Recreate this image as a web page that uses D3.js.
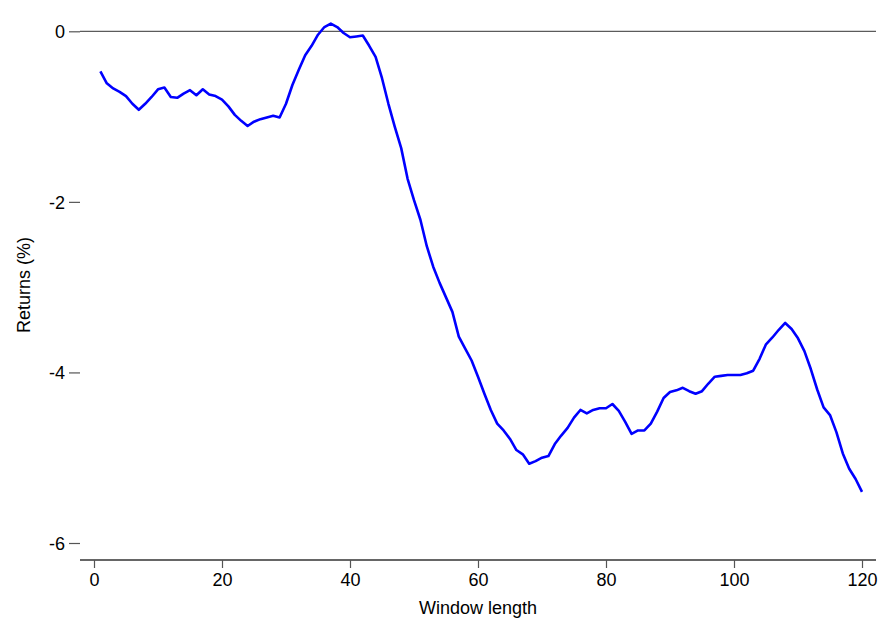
<!DOCTYPE html>
<html>
<head>
<meta charset="utf-8">
<script src="https://cdn.jsdelivr.net/npm/d3@7"></script>
<style>
  body { margin: 0; background: #fff; }
  text { font-family: "Liberation Sans", Arial, sans-serif; }
</style>
</head>
<body>
<script>
width = 880
height = 620

// window lengths 1..120 and the returns
windows = d3.range(1, 121)
returns = [
  -0.47, -0.61, -0.67, -0.71, -0.76, -0.85, -0.92, -0.85, -0.77, -0.68,
  -0.66, -0.77, -0.78, -0.73, -0.69, -0.75, -0.68, -0.74, -0.76, -0.80,
  -0.88, -0.98, -1.05, -1.11, -1.06, -1.03, -1.01, -0.99, -1.01, -0.85,
  -0.63, -0.45, -0.28, -0.17, -0.04, 0.05, 0.09, 0.05, -0.02, -0.07,
  -0.06, -0.05, -0.17, -0.30, -0.55, -0.85, -1.12, -1.37, -1.73, -1.98,
  -2.21, -2.52, -2.76, -2.95, -3.12, -3.29, -3.58, -3.72, -3.86, -4.05,
  -4.25, -4.44, -4.60, -4.68, -4.78, -4.91, -4.96, -5.07, -5.04, -5.00,
  -4.98, -4.84, -4.74, -4.65, -4.53, -4.44, -4.48, -4.44, -4.42, -4.42,
  -4.37, -4.45, -4.58, -4.72, -4.68, -4.68, -4.60, -4.46, -4.30, -4.23,
  -4.21, -4.18, -4.22, -4.25, -4.22, -4.13, -4.05, -4.04, -4.03, -4.03,
  -4.03, -4.01, -3.98, -3.84, -3.67, -3.59, -3.50, -3.42, -3.49, -3.60,
  -3.75, -3.96, -4.20, -4.41, -4.50, -4.70, -4.95, -5.13, -5.25, -5.40
]
xTicks = [0, 20, 40, 60, 80, 100, 120]
yTicks = [0, -2, -4, -6]

left = 80
right = 876
top = 9
bottom = 560

x = d3.scaleLinear().domain([0, 120]).range([94, 862])
y = d3.scaleLinear().domain([0, -6]).range([31.3, 543])

svg = d3.select("body")
    .append("svg")
    .attr("width", width)
    .attr("height", height)

// zero reference line
svg.append("line")
    .attr("x1", left).attr("x2", right)
    .attr("y1", y(0)).attr("y2", y(0))
    .attr("stroke", "#333")
    .attr("stroke-width", 1)

xAxis = svg.append("g")
    .attr("transform", "translate(0," + bottom + ")")
    .call(d3.axisBottom(x).tickValues(xTicks).tickSize(8).tickPadding(5).tickFormat(d3.format("d")))
yAxis = svg.append("g")
    .attr("transform", "translate(" + left + ",0)")
    .call(d3.axisLeft(y).tickValues(yTicks).tickSize(11).tickPadding(4).tickFormat(function(d) { return d < 0 ? "-" + (-d) : d; }))

xAxis.select(".domain").attr("d", "M" + left + ",0H" + right)
    .attr("stroke", "#666").attr("stroke-width", 2)
yAxis.select(".domain").attr("d", "M0," + top + "V" + bottom)
    .attr("stroke", "#000").attr("stroke-width", 1.3)

svg.selectAll(".tick line").attr("stroke", "#555").attr("stroke-width", 1.2)
svg.selectAll(".tick text").attr("font-size", 18).attr("fill", "#000")
    .attr("font-family", "'Liberation Sans', Arial, sans-serif")
yAxis.selectAll(".tick text").attr("dy", "0.36em")

svg.append("text")
    .attr("x", 478).attr("y", 614)
    .attr("text-anchor", "middle")
    .attr("font-size", 18)
    .text("Window length")

svg.append("text")
    .attr("transform", "translate(30,285) rotate(-90)")
    .attr("text-anchor", "middle")
    .attr("font-size", 18)
    .text("Returns (%)")

line = d3.line()
    .x(function(d, i) { return x(windows[i]); })
    .y(function(d) { return y(d); })

svg.append("path")
    .datum(returns)
    .attr("d", line)
    .attr("fill", "none")
    .attr("stroke", "#0000ff")
    .attr("stroke-width", 2.6)
    .attr("stroke-linejoin", "round")
</script>
</body>
</html>
